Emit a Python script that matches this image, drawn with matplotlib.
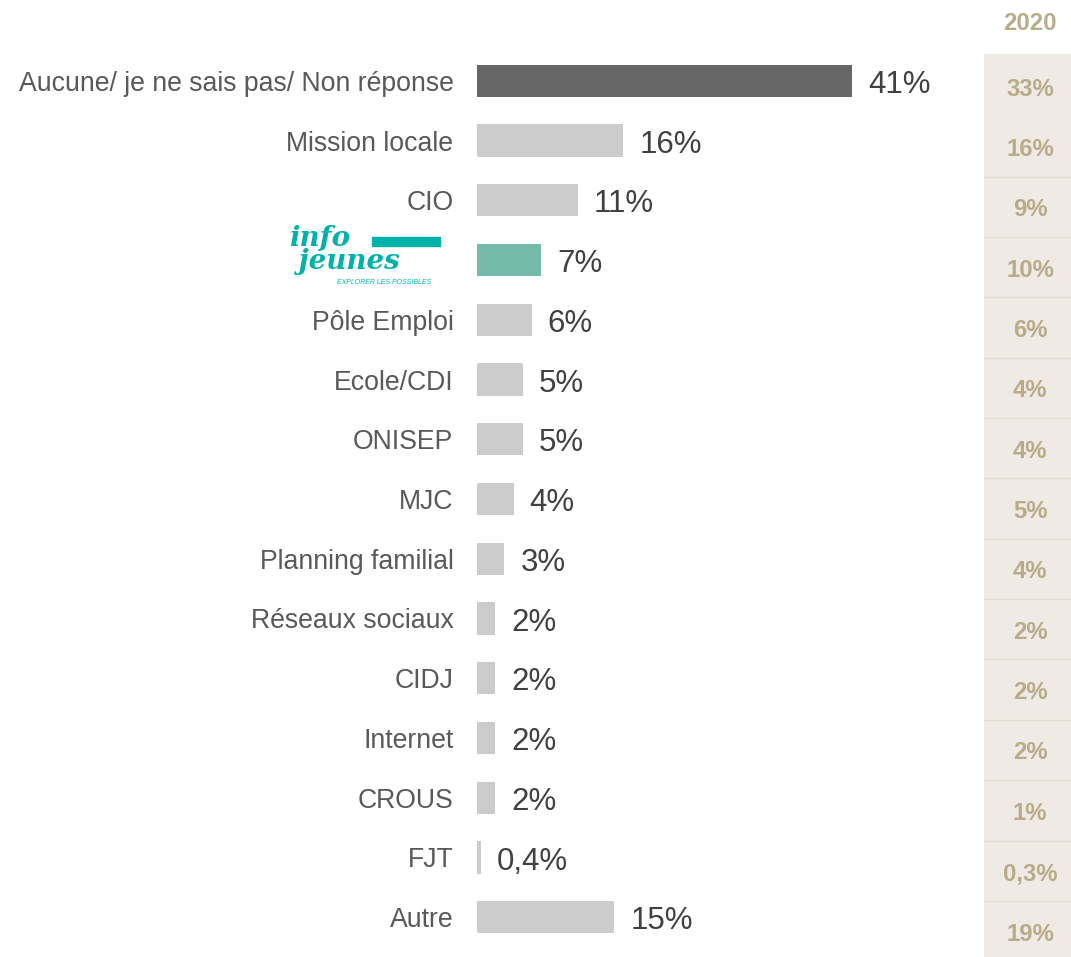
import matplotlib.pyplot as plt
import numpy as np

plt.rcParams['font.family'] = ['Liberation Sans', 'DejaVu Sans']

categories = ["Aucune/ je ne sais pas/ Non réponse", "Mission locale", "CIO", "",
              "Pôle Emploi", "Ecole/CDI", "ONISEP", "MJC", "Planning familial",
              "Réseaux sociaux", "CIDJ", "Internet", "CROUS", "FJT", "Autre"]
values = [41, 16, 11, 7, 6, 5, 5, 4, 3, 2, 2, 2, 2, 0.4, 15]
value_labels = ["41%", "16%", "11%", "7%", "6%", "5%", "5%", "4%", "3%",
                "2%", "2%", "2%", "2%", "0,4%", "15%"]
labels_2020 = ["33%", "16%", "9%", "10%", "6%", "4%", "4%", "5%", "4%",
               "2%", "2%", "2%", "1%", "0,3%", "19%"]

W, H = 1071, 957
fig = plt.figure(figsize=(W / 100, H / 100), dpi=100)

def px_axes(x0, y0, x1, y1):
    # pixel box (top-left origin) -> figure axes
    return fig.add_axes([x0 / W, 1 - y1 / H, (x1 - x0) / W, (y1 - y0) / H])

# main bars
ax = px_axes(477, 51, 960, 947)
n = len(values)
y = np.arange(n)
colors = ["#cccccc"] * n
colors[0] = "#666666"
colors[3] = "#75bbab"
ax.barh(y, values, height=0.54, color=colors)
ax.set_xlim(0, (960 - 477) / 9.15)
ax.set_ylim(n - 0.5, -0.5)
ax.set_yticks(y)
ax.set_yticklabels(categories, fontsize=19.2, color="#595959")
ax.tick_params(axis='y', length=0, pad=17)
ax.set_xticks([])
for s in ax.spines.values():
    s.set_visible(False)
for i, (v, lab) in enumerate(zip(values, value_labels)):
    ax.annotate(lab, (v, i), xytext=(11.5, -3), textcoords='offset points',
                va='center', ha='left', fontsize=22.5, color="#404040")

# info jeunes logo (text stand-in)
teal = "#00b2a9"
fig.text(289 / W, 1 - 250 / H, "info\n jeunes", fontsize=20, fontweight='bold',
         style='italic', family='DejaVu Serif', color=teal, va='center', ha='left',
         linespacing=0.85)
fig.patches.append(plt.Rectangle((372 / W, 1 - 246 / H), 68 / W, 9 / H,
                                 transform=fig.transFigure, color=teal))
fig.text(337 / W, 1 - 282 / H, "EXPLORER LES POSSIBLES", fontsize=5, style='italic',
         color=teal, va='center', ha='left')

# 2020 column
ax2 = px_axes(984, 54, 1071, 957)
ax2.set_facecolor("#efebe4")
ax2.set_xlim(0, 1)
ax2.set_ylim(14.43, -0.53)
for i, lab in enumerate(labels_2020):
    ax2.text(0.53, i + 0.05, lab, ha='center', va='center', fontsize=17.2,
             fontweight='bold', color="#b8ab8a")
for i in range(1, n - 1):
    ax2.axhline(i + 0.5, color="#e2dcd2", lw=1)
ax2.set_xticks([])
ax2.set_yticks([])
for s in ax2.spines.values():
    s.set_visible(False)
fig.text(1030 / W, 1 - 23 / H, "2020", ha='center', va='center', fontsize=17.2,
         fontweight='bold', color="#b8ab8a")

fig.savefig("out.png", dpi=100)
